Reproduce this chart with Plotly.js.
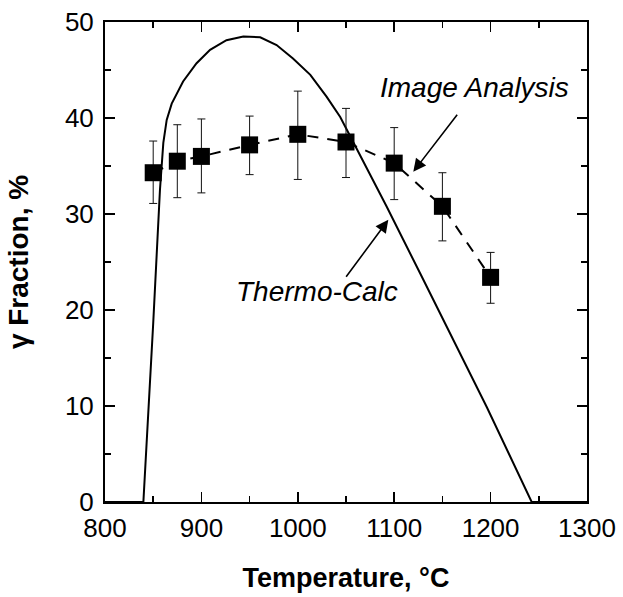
<!DOCTYPE html>
<html>
<head>
<meta charset="utf-8">
<script src="https://cdn.plot.ly/plotly-3.0.1.min.js"></script>
<style>html,body{margin:0;padding:0;background:#fff;}#chart{width:623px;height:597px;}</style>
</head>
<body>
<div id="chart"></div>
<script>
// Thermo-Calc equilibrium curve
const calcTemp = [800, 839.8, 850, 857, 860.5, 864, 869.2, 881, 895, 909, 926, 943.5, 961, 978, 995, 1013, 1030, 1044, 1058, 1092, 1127, 1161, 1196, 1242.6, 1300];
const calcFrac = [0, 0, 18.6, 32.5, 37.4, 39.8, 41.5, 43.8, 45.7, 47.1, 48.1, 48.5, 48.4, 47.6, 46.2, 44.5, 42.2, 40.1, 37.4, 30.8, 23.8, 16.9, 9.9, 0, 0];

// Image analysis measurements
const expTemp = [850, 875, 900, 950, 1000, 1050, 1100, 1150, 1200];
const expFrac = [34.3, 35.5, 36.0, 37.2, 38.3, 37.5, 35.3, 30.8, 23.4];
const expHigh = [37.6, 39.3, 39.9, 40.2, 42.8, 41.0, 39.0, 34.3, 26.0];
const expLow  = [31.1, 31.7, 32.2, 34.1, 33.6, 33.8, 31.5, 27.2, 20.7];

const errPlus = expFrac.map((v, i) => +(expHigh[i] - v).toFixed(2));
const errMinus = expFrac.map((v, i) => +(v - expLow[i]).toFixed(2));

const traces = [
  {
    x: calcTemp, y: calcFrac, type: 'scatter', mode: 'lines',
    line: {color: '#000', width: 2}, hoverinfo: 'skip', showlegend: false
  },
  {
    x: expTemp, y: expFrac, type: 'scatter', mode: 'lines+markers',
    line: {color: '#000', width: 2, dash: '11px,9px'},
    marker: {symbol: 'square', size: 17, color: '#000'},
    error_y: {type: 'data', symmetric: false, array: errPlus, arrayminus: errMinus,
              color: '#111', thickness: 1, width: 4},
    showlegend: false
  }
];

const font = 'Liberation Sans, Arial, sans-serif';
const axisCommon = {
  showgrid: false, zeroline: false, showline: true, linecolor: '#000', linewidth: 2,
  mirror: 'allticks', ticks: 'inside', ticklen: 10, tickwidth: 1.5, tickcolor: '#000',
  tickfont: {family: font, size: 26, color: '#000'}
};

const layout = {
  width: 623, height: 597,
  margin: {l: 105, r: 36, t: 22, b: 95},
  paper_bgcolor: '#fff', plot_bgcolor: '#fff',
  xaxis: Object.assign({}, axisCommon, {
    range: [800, 1300], tick0: 800, dtick: 100, ticklabelstandoff: 2,
    minor: {ticks: 'inside', ticklen: 6, dtick: 50, tickwidth: 1.5, tickcolor: '#000'},
    title: {text: 'Temperature, °C', font: {family: font, size: 27, color: '#000', weight: 'bold'}, standoff: 26}
  }),
  yaxis: Object.assign({}, axisCommon, {
    range: [0, 50], tick0: 0, dtick: 10, ticklabelstandoff: 4,
    minor: {ticks: 'inside', ticklen: 6, dtick: 5, tickwidth: 1.5, tickcolor: '#000'},
    title: {text: 'γ Fraction, %', font: {family: font, size: 28, color: '#000', weight: 'bold'}, standoff: 28}
  }),
  annotations: [
    {x: 1119.8, y: 34.4, ax: 1166.5, ay: 40.5, axref: 'x', ayref: 'y', xref: 'x', yref: 'y',
     text: '', showarrow: true, arrowhead: 2, arrowsize: 1.6, arrowwidth: 1.6, arrowcolor: '#000'},
    {x: 1093.9, y: 29.4, ax: 1049.0, ay: 23.3, axref: 'x', ayref: 'y', xref: 'x', yref: 'y',
     text: '', showarrow: true, arrowhead: 2, arrowsize: 1.6, arrowwidth: 1.6, arrowcolor: '#000'},
    {x: 1183.8, y: 43.2, xref: 'x', yref: 'y', text: '<i>Image Analysis</i>', showarrow: false,
     xanchor: 'center', yanchor: 'middle', font: {family: font, size: 28, color: '#000'}},
    {x: 1019.6, y: 21.9, xref: 'x', yref: 'y', text: '<i>Thermo-Calc</i>', showarrow: false,
     xanchor: 'center', yanchor: 'middle', font: {family: font, size: 28, color: '#000'}}
  ]
};

Plotly.newPlot('chart', traces, layout, {displayModeBar: false, staticPlot: true});
</script>
</body>
</html>
